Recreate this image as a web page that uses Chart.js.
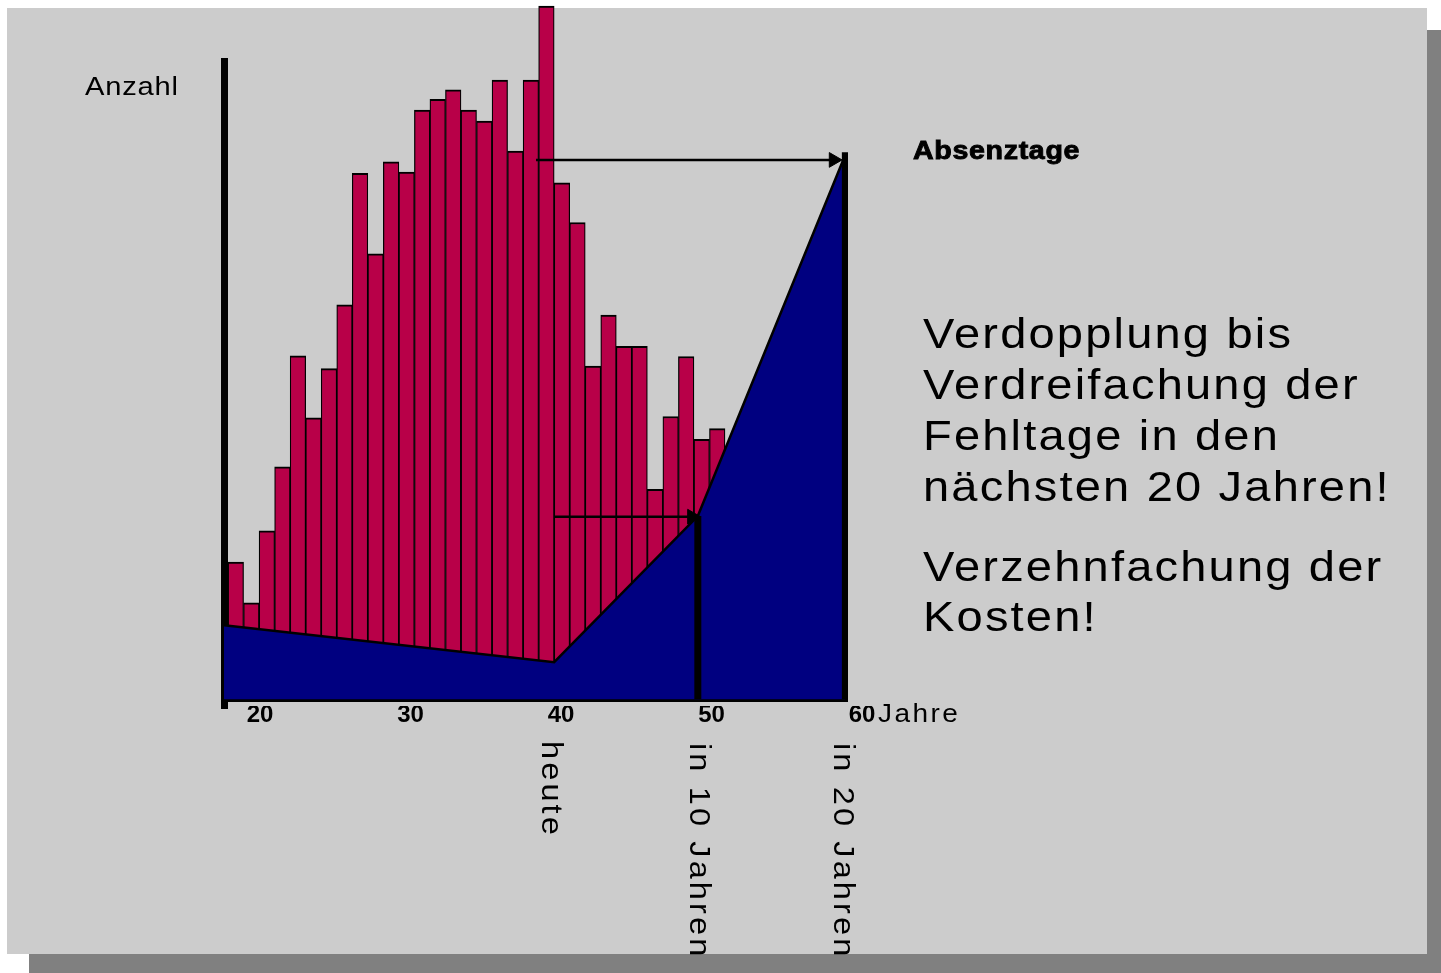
<!DOCTYPE html>
<html><head><meta charset="utf-8">
<script src="https://cdn.jsdelivr.net/npm/chart.js@4/dist/chart.umd.min.js"></script>
<style>
html,body{margin:0;padding:0;background:#fff;width:1441px;height:973px;overflow:hidden;font-family:"Liberation Sans",Arial,sans-serif;}
#shadow{position:absolute;left:29px;top:30px;width:1420px;height:946px;background:#808080;}
#panel{position:absolute;left:7px;top:8px;width:1420px;height:946px;background:#cccccc;}
#c{position:absolute;left:0;top:0;}
#overlay{position:absolute;left:0;top:0;width:1441px;height:955px;overflow:hidden;}
.t{position:absolute;white-space:nowrap;color:#000;transform-origin:0 0;transform:scaleX(1.12);}
.rot{transform-origin:0 0;transform:rotate(90deg) scaleX(1.12);font-size:29px;line-height:29px;letter-spacing:2.8px;}
</style></head>
<body>
<div id="shadow"></div>
<div id="panel"></div>
<canvas id="c" width="1441" height="973"></canvas>
<div id="overlay">
  <div class="t" style="left:85px;top:73px;font-size:26px;line-height:26px;letter-spacing:0.7px;">Anzahl</div>
  <div class="t" style="left:913px;top:137px;font-size:26px;line-height:26px;font-weight:bold;letter-spacing:0.6px;-webkit-text-stroke:0.9px #000;transform:scaleX(1.1);">Absenztage</div>
  <div class="t" style="left:923px;top:308px;font-size:42px;line-height:51px;letter-spacing:1.95px;">Verdopplung bis<br>Verdreifachung der<br>Fehltage in den<br>nächsten 20 Jahren!</div>
  <div class="t" style="left:923px;top:542px;font-size:42px;line-height:50px;letter-spacing:1.95px;">Verzehnfachung der<br>Kosten!</div>
  <div class="t" style="left:878px;top:701px;font-size:25px;line-height:25px;letter-spacing:2.2px;">Jahre</div>
  <div class="t rot" style="left:566px;top:741px;">heute</div>
  <div class="t rot" style="left:714px;top:743px;">in 10 Jahren</div>
  <div class="t rot" style="left:858px;top:743px;">in 20 Jahren</div>
</div>
<script>
// ---- data ----
const ages = [18,19,20,21,22,23,24,25,26,27,28,29,30,31,32,33,34,35,36,37,38,39,40,41,42,43,44,45,46,47,48,49];
const counts = [21.5,15.1,26.4,36.4,53.8,44.1,51.8,61.8,82.4,69.8,84.2,82.6,92.3,94.0,95.5,92.3,90.6,97.0,85.9,97.0,108.6,80.9,74.7,52.2,60.2,55.3,55.3,32.9,44.3,53.7,40.7,42.4];
const absenzX = [17.24, 38.5, 47.75, 57.25];
const absenzY = [11.6, 5.8, 28.7, 85.3];
const drop10X = [47.75, 47.75];
const drop10Y = [0, 28.7];
const drop20X = [57.25, 57.25];
const drop20Y = [0, 85.7];
const arrowTopX = [37.33, 56.49];
const arrowTopY = [84.5, 84.5];
const arrowLowX = [38.5, 47.37];
const arrowLowY = [28.6, 28.6];
const tickValues = [20, 30, 40, 50, 60];

const pts = (xs, ys) => xs.map((x, i) => ({x: x, y: ys[i]}));

const lineDs = (data, w, order) => ({
  type: 'line', data: data, borderColor: '#000', borderWidth: w, pointRadius: 0,
  fill: false, tension: 0, order: order
});
const arrowDs = (data) => ({
  type: 'line', data: data, borderColor: '#000', borderWidth: 2.5,
  pointRadius: [0, 8.5], pointStyle: 'triangle', pointRotation: 90,
  pointBackgroundColor: '#000', pointBorderColor: '#000', pointBorderWidth: 1,
  fill: false, tension: 0, order: 0
});

new Chart(document.getElementById('c'), {
  type: 'bar',
  data: {
    datasets: [
      { type: 'bar', data: pts(ages, counts), backgroundColor: '#b80048', borderColor: '#000',
        borderWidth: {left: 1.25, right: 1.25, top: 2, bottom: 0}, borderSkipped: 'start',
        categoryPercentage: 1, barPercentage: 1, clip: false, order: 10 },
      { type: 'line', data: pts(absenzX, absenzY), backgroundColor: '#000080', borderColor: '#000',
        borderWidth: 2.5, pointRadius: 0, fill: 'origin', tension: 0, order: 5 },
      lineDs(pts(drop10X, drop10Y), 7, 1),
      lineDs(pts(drop20X, drop20Y), 7, 1),
      arrowDs(pts(arrowTopX, arrowTopY)),
      arrowDs(pts(arrowLowX, arrowLowY))
    ]
  },
  options: {
    responsive: false, animation: false, devicePixelRatio: 1,
    layout: { padding: { left: 224, right: 593, top: 61, bottom: 227 } },
    plugins: { legend: { display: false }, tooltip: { enabled: false } },
    events: [],
    scales: {
      x: { type: 'linear', display: false, offset: false, min: 17.24, max: 57.42 },
      x2: { type: 'linear', position: 'bottom', offset: false, min: 17.608, max: 59.07,
        grid: { display: false, drawTicks: false }, border: { display: false },
        ticks: { autoSkip: false, maxRotation: 0, minRotation: 0, padding: -5, color: '#000',
          font: { family: '"Liberation Sans", Arial, sans-serif', size: 24, weight: 'bold' },
          callback: (v) => String(v) },
        afterBuildTicks: (s) => { s.ticks = tickValues.map(v => ({ value: v })); },
        afterFit: (s) => { s.height = 40; s.paddingLeft = 0; s.paddingRight = 0; }
      },
      y: { type: 'linear', position: 'left', min: -1.0655, max: 100, z: 1,
        ticks: { display: false },
        grid: { drawTicks: false, drawOnChartArea: true,
          color: (c) => (c.tick && c.tick.value === 0) ? '#000' : 'rgba(0,0,0,0)',
          lineWidth: (c) => (c.tick && c.tick.value === 0) ? 5 : 0 },
        border: { display: true, color: '#000', width: 7 },
        afterBuildTicks: (s) => { s.ticks = [{ value: 0 }]; },
        afterFit: (s) => { s.width = 0; s.paddingTop = 0; s.paddingBottom = 0; }
      }
    }
  }
});
</script>
</body></html>
